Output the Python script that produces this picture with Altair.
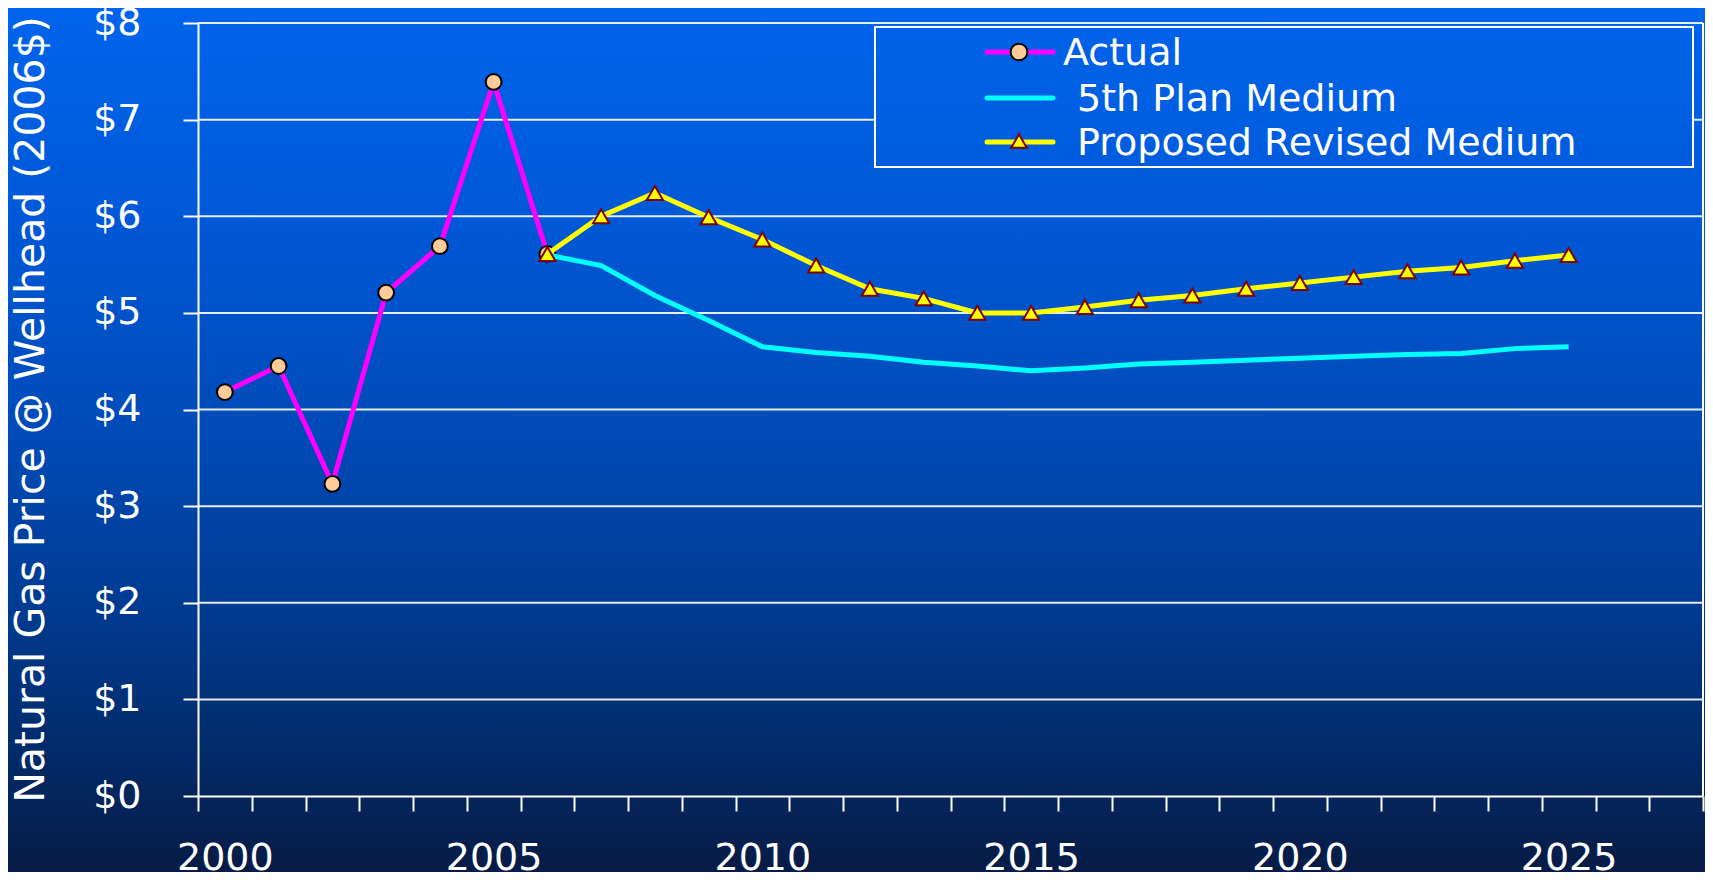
import altair as alt
import pandas as pd

# ---------------- data ----------------
YEARS_ACTUAL = [2000, 2001, 2002, 2003, 2004, 2005, 2006]
ACTUAL = [4.18, 4.45, 3.23, 5.21, 5.69, 7.39, 5.61]

YEARS_PROJ = list(range(2006, 2026))
FIFTH_PLAN = [5.60, 5.49, 5.18, 4.92, 4.65, 4.59, 4.55, 4.49, 4.45, 4.40,
              4.43, 4.47, 4.49, 4.51, 4.53, 4.55, 4.57, 4.58, 4.63, 4.65]
REVISED = [5.61, 6.00, 6.24, 5.99, 5.76, 5.49, 5.25, 5.15, 5.00, 5.00,
           5.06, 5.13, 5.18, 5.25, 5.31, 5.37, 5.43, 5.47, 5.54, 5.60]

SERIES = ["Actual", "5th Plan Medium", "Proposed Revised Medium"]
Y_TICKS = [0, 1, 2, 3, 4, 5, 6, 7, 8]
X_DOMAIN = [1999.5, 2027.5]
X_TICKS = [1999.5 + i for i in range(29)]
Y_TITLE = "Natural Gas Price @ Wellhead (2006$)"

# ---------------- layout / style ----------------
W, H = 1505, 773
PAD = {"left": 190, "top": 15, "right": 2, "bottom": 76}
FONT = "DejaVu Sans"
MAGENTA, CYAN, YELLOW = "#FF00FF", "#00FFFF", "#FFFF00"
PEACH, DARKRED = "#FFCC99", "#800000"

df_actual = pd.DataFrame({"year": YEARS_ACTUAL, "price": ACTUAL})
df_fifth = pd.DataFrame({"year": YEARS_PROJ, "price": FIFTH_PLAN})
df_rev = pd.DataFrame({"year": YEARS_PROJ, "price": REVISED})
df_grid = pd.DataFrame({"v": Y_TICKS[1:]})
one = pd.DataFrame({"a": [0]})

x_axis = alt.Axis(
    values=X_TICKS,
    labelExpr="((datum.value + 0.5) % 5 == 0 && datum.value < 2026) ? '' + (datum.value + 0.5) : ''",
    labelOffset=W / 28 / 2,
    labelFlush=False,
    labelOverlap=False,
    labelFont=FONT, labelFontSize=38, labelColor="white", labelPadding=28,
    tickSize=15, tickColor="white", tickWidth=2,
    domainColor="white", domainWidth=2,
    grid=False, title=None, zindex=1,
)
y_axis = alt.Axis(
    values=Y_TICKS,
    labelExpr="'$' + datum.value",
    labelFont=FONT, labelFontSize=38, labelColor="white", labelPadding=42,
    labelFlush=False, labelOverlap=False,
    tickSize=15, tickColor="white", tickWidth=2,
    domainColor="white", domainWidth=2,
    grid=False, zindex=1,
    title=Y_TITLE, titleFont=FONT, titleFontSize=41, titleFontWeight="normal",
    titleColor="white", titleAngle=270, titleAlign="center",
    titleBaseline="alphabetic", titleX=-155, titleY=386,
)

X = alt.X("year:Q", scale=alt.Scale(domain=X_DOMAIN, nice=False, zero=False), axis=x_axis)
Y = alt.Y("price:Q", scale=alt.Scale(domain=[0, 8], nice=False), axis=y_axis)

def grad(stops):
    return alt.Gradient(
        gradient="linear",
        stops=[alt.GradientStop(color=c, offset=o) for o, c in stops],
        x1=0, x2=0, y1=0, y2=1,
    )

bg = alt.Chart(one).mark_rect(
    fill=grad([(0, "#0064EC"), (0.25, "#0058D6"), (0.5, "#004AB6"),
               (0.7, "#003A90"), (0.85, "#022C6C"), (1, "#071B45")]),
).encode(x=alt.value(-PAD["left"]), x2=alt.value(W + PAD["right"]),
         y=alt.value(-PAD["top"]), y2=alt.value(H + PAD["bottom"]))

grid = alt.Chart(df_grid).mark_rule(color="white", strokeWidth=2, opacity=0.9).encode(
    y=alt.Y("v:Q", scale=alt.Scale(domain=[0, 8], nice=False), axis=y_axis)
)
right_border = alt.Chart(one).mark_rule(color="white", strokeWidth=2).encode(
    x=alt.datum(X_DOMAIN[1], scale=alt.Scale(domain=X_DOMAIN, nice=False, zero=False), axis=x_axis)
)

legend_box = alt.Chart(one).mark_rect(
    fill=grad([(0, "#0062E8"), (1, "#005CDD")]), stroke="white", strokeWidth=2,
).encode(x=alt.value(677), x2=alt.value(1495), y=alt.value(4), y2=alt.value(144))

line_actual = alt.Chart(df_actual).mark_line(color=MAGENTA, strokeWidth=5).encode(x=X, y=Y)
pts_actual = alt.Chart(df_actual).mark_point(
    shape="circle", filled=True, fill=PEACH, stroke="black", strokeWidth=2,
    size=250, opacity=1, fillOpacity=1).encode(x=X, y=Y)
line_fifth = alt.Chart(df_fifth).mark_line(color=CYAN, strokeWidth=5).encode(x=X, y=Y)
line_rev = alt.Chart(df_rev).mark_line(color=YELLOW, strokeWidth=5).encode(x=X, y=Y)
pts_rev = alt.Chart(df_rev).mark_point(
    shape="triangle-up", filled=True, fill=YELLOW, stroke=DARKRED, strokeWidth=2,
    size=260, opacity=1, fillOpacity=1).encode(x=X, y=Y)

# ---------------- custom legend ----------------
LEG_ROWS_Y = [29, 75, 119]
LEG_TEXT_X = [865, 879, 879]
LEG_COLORS = [MAGENTA, CYAN, YELLOW]
legend_layers = []
for i, name in enumerate(SERIES):
    ly = LEG_ROWS_Y[i]
    legend_layers.append(
        alt.Chart(one).mark_rule(color=LEG_COLORS[i], strokeWidth=5, strokeCap="round").encode(
            x=alt.value(789), x2=alt.value(855), y=alt.value(ly))
    )
    legend_layers.append(
        alt.Chart(pd.DataFrame({"t": [name]})).mark_text(
            font=FONT, fontSize=38, color="white", align="left", baseline="middle"
        ).encode(x=alt.value(LEG_TEXT_X[i]), y=alt.value(ly + 2), text="t:N")
    )
legend_layers.append(
    alt.Chart(one).mark_point(shape="circle", filled=True, fill=PEACH, stroke="black",
                              strokeWidth=2, size=280, opacity=1, fillOpacity=1).encode(
        x=alt.value(821), y=alt.value(LEG_ROWS_Y[0]))
)
legend_layers.append(
    alt.Chart(one).mark_point(shape="triangle-up", filled=True, fill=YELLOW, stroke=DARKRED,
                              strokeWidth=2, size=240, opacity=1, fillOpacity=1).encode(
        x=alt.value(821), y=alt.value(LEG_ROWS_Y[2] - 1))
)

chart = alt.layer(
    bg, grid, right_border, legend_box,
    line_actual, pts_actual, line_fifth, line_rev, pts_rev,
    *legend_layers,
).properties(
    width=W, height=H,
    autosize=alt.AutoSizeParams(type="none"),
    padding=PAD,
    background="#071B45",
).configure_view(stroke="transparent")

chart.save("out.html", embed_options={"renderer": "svg", "actions": False})
